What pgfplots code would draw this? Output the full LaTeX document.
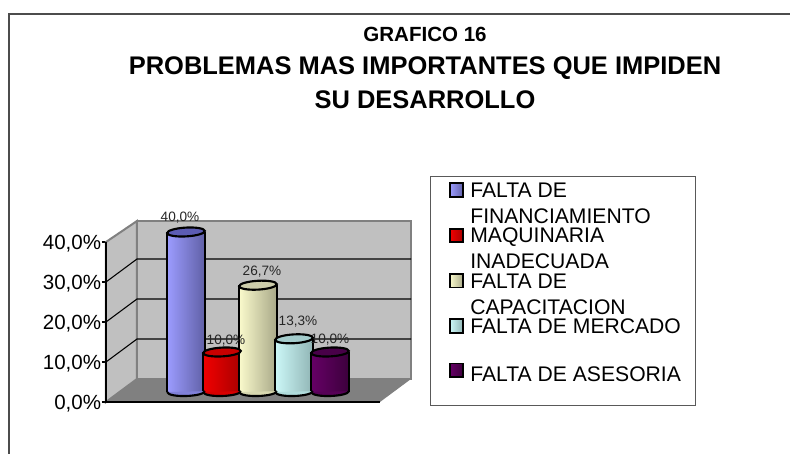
\documentclass[border=0pt]{standalone}
\usepackage{fontspec}
\setmainfont{Liberation Sans}
\usepackage{pgfplots}
\pgfplotsset{compat=1.18}
\definecolor{wall}{HTML}{C0C0C0}
\definecolor{edge}{HTML}{808080}
\definecolor{aL}{HTML}{9C9CFF}\definecolor{aR}{HTML}{6060A6}\definecolor{aM}{HTML}{8080D8}\definecolor{aT}{HTML}{5C5CB4}\definecolor{aK}{HTML}{9999FF}
\definecolor{bL}{HTML}{F20000}\definecolor{bR}{HTML}{A80000}\definecolor{bM}{HTML}{D80000}\definecolor{bT}{HTML}{C80000}\definecolor{bK}{HTML}{FF0000}
\definecolor{cL}{HTML}{FAFACC}\definecolor{cR}{HTML}{A8A888}\definecolor{cM}{HTML}{D8D8B0}\definecolor{cT}{HTML}{CCCCAA}\definecolor{cK}{HTML}{FFFFCC}
\definecolor{dL}{HTML}{CCF8F8}\definecolor{dR}{HTML}{90B4B4}\definecolor{dM}{HTML}{B0DCDC}\definecolor{dT}{HTML}{A4CCCC}\definecolor{dK}{HTML}{CCFFFF}
\definecolor{eL}{HTML}{660066}\definecolor{eR}{HTML}{3C003C}\definecolor{eM}{HTML}{560056}\definecolor{eT}{HTML}{480048}\definecolor{eK}{HTML}{660066}
\pgfdeclareplotmark{ell}{%
  \pgfpathellipse{\pgfpointorigin}{\pgfqpoint{14.1pt}{0.8pt}}{\pgfqpoint{-0.2pt}{3.3pt}}%
  \pgfusepathqfillstroke}
\pgfdeclareplotmark{ellb}{%
  \pgfpathmoveto{\pgfqpoint{-14.25pt}{0pt}}%
  \pgfpathcurveto{\pgfqpoint{-13pt}{-4.6pt}}{\pgfqpoint{13pt}{-3.6pt}}{\pgfqpoint{14.25pt}{0.6pt}}%
  \pgfusepathqfillstroke}
% x, value, colour prefix
\newcommand\cyl[3]{%
  \addplot[forget plot, only marks, mark=ellb,
    mark options={fill=#3M, draw=black, line width=1.6pt}] coordinates {(#1,0)};
  \addplot[ybar, bar width=28.5pt, bar shift=0pt, draw=none, left color=#3L, right color=#3R,
    legend image code/.code={%
      \path (0pt,0pt) -- (21pt,0pt);
      \draw[black, line width=1.4pt, fill=#3K] (10.6pt,4.4pt) rectangle (20.8pt,14.6pt);}]
    coordinates {(#1,#2)};
  \addplot[forget plot, ycomb, no marks, black, line width=1.6pt, xshift=-14.25pt] coordinates {(#1,#2)};
  \addplot[forget plot, ycomb, no marks, black, line width=1.6pt, xshift=14.25pt] coordinates {(#1,#2)};
  \addplot[forget plot, only marks, mark=ell,
    mark options={fill=#3T, draw=black, line width=1.6pt}] coordinates {(#1,#2)};
}
\newcommand\lbl[4]{%
  \addplot[forget plot, draw=none, mark=none,
    nodes near coords={\pgfmathprintnumber[assume math mode=true,fixed,fixed zerofill,precision=1,use comma]{\pgfplotspointmeta}\%},
    every node near coord/.append style={anchor=center, inner sep=0pt, xshift=#3, yshift=#4,
      font=\fontsize{10.2pt}{12pt}\selectfont, text=black!85}]
    coordinates {(#1,#2)};
}
\newcommand\leg[2]{\parbox[t]{165pt}{\setlength{\baselineskip}{19.5pt}\rule{0pt}{12pt}#1\\\rule{0pt}{12pt}#2}}
\begin{document}
\begin{tikzpicture}[x=0.75pt,y=0.75pt]
\path[use as bounding box, fill=white] (0,0) rectangle (790,454);
\draw[black!70, line width=1.1pt] (790,440) -- (9,440) -- (9,0);
\node[align=center, font=\bfseries\fontsize{15.4pt}{18pt}\selectfont] at (425,420) {GRAFICO 16};
\node[align=center, font=\bfseries\fontsize{19.1pt}{24pt}\selectfont] at (425,386) {PROBLEMAS MAS IMPORTANTES QUE IMPIDEN};
\node[align=center, font=\bfseries\fontsize{19.1pt}{24pt}\selectfont] at (425,354) {SU DESARROLLO};
% walls and value axis
\begin{axis}[
  at={(79.5pt,39pt)}, anchor=south west, scale only axis,
  width=228.75pt, height=135.75pt,
  xmin=106, xmax=411, ymin=0, ymax=45.25, clip=false,
  xtick=\empty, ytick={0,10,20,30,40},
  yticklabels={{0,0\%},{10,0\%},{20,0\%},{30,0\%},{40,0\%}},
  ytick pos=left, tick align=outside, major tick length=3pt,
  tick style={black, line width=0.8pt},
  yticklabel style={font=\fontsize{15.4pt}{18pt}\selectfont, inner sep=0pt, xshift=-0.5pt, yshift=-1pt},
  axis line style={draw=none},
]
\addplot[fill=wall, draw=edge, line width=1.5pt] coordinates {(106,40)(137,45.25)(137,5.75)(106,0)} --cycle;
\addplot[fill=wall, draw=edge, line width=1.5pt] coordinates {(137,5.75)(137,45.25)(411,45.25)(411,5.75)} --cycle;
\addplot[fill=edge, draw=none] coordinates {(106,0)(137,5.75)(411,5.75)(380,0)} --cycle;
\addplot[black, line width=0.8pt] coordinates {(106,10)(137,15.75)(411,15.75)};
\addplot[black, line width=0.8pt] coordinates {(106,20)(137,25.75)(411,25.75)};
\addplot[black, line width=0.8pt] coordinates {(106,30)(137,35.75)(411,35.75)};
\addplot[black, line width=1pt] coordinates {(106,40)(106,0)(380,0)};
\end{axis}
% cylinders and legend
\begin{axis}[
  at={(79.5pt,39pt)}, anchor=south west, scale only axis,
  width=228.75pt, height=135.75pt,
  xmin=-1.2222, xmax=7.25, ymin=-2.5, ymax=42.75, clip=false,
  hide axis,
  legend cell align=left,
  legend style={at={(1.0623,1.2486)}, anchor=north west, draw=black!65, line width=1pt,
    fill=white, inner sep=3.75pt, row sep=2.3pt, column sep=4.5pt,
    nodes={inner sep=0pt, text depth=, text height=, font=\fontsize{15.85pt}{19.5pt}\selectfont}},
]
\cyl{1}{40}{a}
\addlegendentry{\leg{FALTA DE}{FINANCIAMIENTO}}
\cyl{2}{10}{b}
\addlegendentry{\leg{MAQUINARIA}{INADECUADA}}
\cyl{3}{26.7}{c}
\addlegendentry{\leg{FALTA DE}{CAPACITACION}}
\cyl{4}{13.3}{d}
\addlegendentry{\leg{FALTA DE MERCADO}{}}
\cyl{5}{10}{e}
\addlegendentry{\parbox[t]{165pt}{\rule[-14pt]{0pt}{26pt}FALTA DE ASESORIA}}
\lbl{1}{40}{-4.5pt}{10.5pt}
\lbl{2}{10}{3pt}{8.25pt}
\lbl{3}{26.7}{3pt}{10.5pt}
\lbl{4}{13.3}{3pt}{12.75pt}
\lbl{5}{10}{0pt}{9pt}
\end{axis}
\end{tikzpicture}
\end{document}
